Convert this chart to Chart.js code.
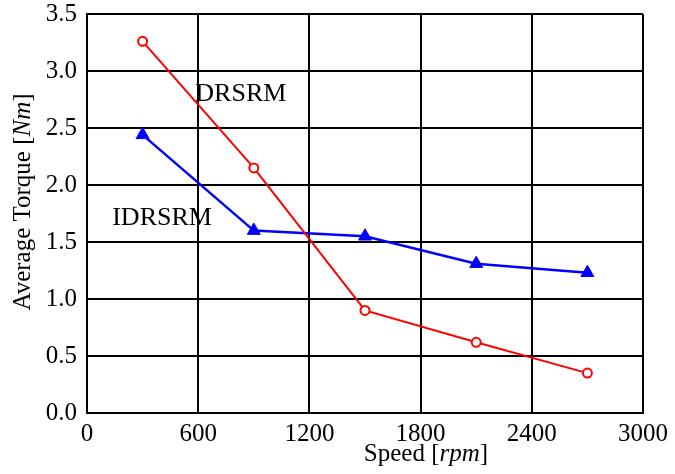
<!DOCTYPE html>
<html><head><meta charset="utf-8">
<script src="https://cdn.jsdelivr.net/npm/chart.js@4/dist/chart.umd.min.js"></script>
<style>html,body{margin:0;padding:0;background:#fff}</style>
</head><body>
<canvas id="c" width="675" height="474"></canvas>
<script>
const speeds = [300, 900, 1500, 2100, 2700];
const drsrm = [3.26, 2.15, 0.90, 0.62, 0.35];
const idrsrm = [2.44, 1.60, 1.55, 1.31, 1.23];
const xTicks = [0, 600, 1200, 1800, 2400, 3000];
const yTicks = [0.0, 0.5, 1.0, 1.5, 2.0, 2.5, 3.0, 3.5];
const labelDR = {text: 'DRSRM', x: 830, y: 2.80};
const labelIDR = {text: 'IDRSRM', x: 405, y: 1.71};

const FONT = '"Liberation Serif", "Times New Roman", serif';

function drawMixed(ctx, parts, size) {
  let total = 0;
  parts.forEach(p => { ctx.font = (p[1] ? 'italic ' : '') + size + 'px ' + FONT; p.w = ctx.measureText(p[0]).width; total += p.w; });
  let x = -total / 2;
  parts.forEach(p => { ctx.font = (p[1] ? 'italic ' : '') + size + 'px ' + FONT; ctx.fillText(p[0], x, 0); x += p.w; });
}

const textPlugin = {
  id: 'texts',
  afterDraw(chart) {
    const ctx = chart.ctx, xs = chart.scales.x, ys = chart.scales.y;
    ctx.save();
    ctx.fillStyle = '#000';
    ctx.textBaseline = 'middle';
    ctx.textAlign = 'left';
    ctx.font = '26px ' + FONT;
    [labelDR, labelIDR].forEach(l => {
      ctx.save();
      ctx.textAlign = 'center';
      ctx.fillText(l.text, xs.getPixelForValue(l.x), ys.getPixelForValue(l.y));
      ctx.restore();
    });
    ctx.save();
    ctx.translate(426, 454);
    drawMixed(ctx, [['Speed ['], ['rpm', true], [']']], 25);
    ctx.restore();
    ctx.save();
    ctx.translate(23, 202);
    ctx.rotate(-Math.PI / 2);
    drawMixed(ctx, [['Average Torque ['], ['Nm', true], [']']], 25);
    ctx.restore();
    ctx.restore();
  }
};

new Chart(document.getElementById('c'), {
  type: 'line',
  data: {
    datasets: [
      {
        label: 'DRSRM',
        data: speeds.map((s, i) => ({x: s, y: drsrm[i]})),
        borderColor: '#ff0000', backgroundColor: '#ffffff',
        borderWidth: 2, pointStyle: 'circle', pointRadius: 4.5,
        pointBorderWidth: 2, pointBorderColor: '#ff0000', pointBackgroundColor: '#ffffff'
      },
      {
        label: 'IDRSRM',
        data: speeds.map((s, i) => ({x: s, y: idrsrm[i]})),
        borderColor: '#0000ff', backgroundColor: '#0000ff',
        borderWidth: 2.5, pointStyle: 'triangle', pointRadius: 7.5,
        pointBorderWidth: 1, pointBorderColor: '#0000ff', pointBackgroundColor: '#0000ff'
      }
    ]
  },
  options: {
    responsive: false, animation: false,
    layout: {padding: {top: 14, right: 32, left: 0, bottom: 0}},
    plugins: {legend: {display: false}, tooltip: {enabled: false}},
    scales: {
      x: {
        type: 'linear', min: 0, max: 3000,
        afterBuildTicks: s => { s.ticks = xTicks.map(v => ({value: v})); },
        afterFit: s => { s.height = 61; s.paddingLeft = 0; s.paddingRight = 0; },
        grid: {color: '#000', lineWidth: 2, drawTicks: false},
        border: {color: '#000', width: 2},
        ticks: {color: '#000', font: {family: FONT, size: 25}, padding: 6, maxRotation: 0,
                callback: v => String(v)}
      },
      y: {
        type: 'linear', min: 0, max: 3.5,
        afterBuildTicks: s => { s.ticks = yTicks.map(v => ({value: v})); },
        afterFit: s => { s.width = 87; s.paddingTop = 0; s.paddingBottom = 0; },
        grid: {color: '#000', lineWidth: 2, drawTicks: false},
        border: {color: '#000', width: 2},
        ticks: {color: '#000', font: {family: FONT, size: 25}, padding: 10,
                callback: v => Number(v).toFixed(1)}
      }
    }
  },
  plugins: [textPlugin]
});
</script>
</body></html>
